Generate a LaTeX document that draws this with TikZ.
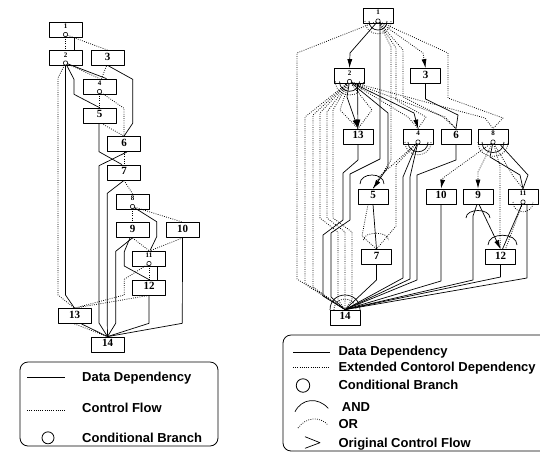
\documentclass[tikz,border=0pt]{standalone}
\usepackage{fontspec}
\setmainfont{Liberation Serif}
\newfontfamily\legfont{Liberation Sans}
\usetikzlibrary{arrows.meta}
\newcommand{\ArcD}[5][]{\draw[#1] (#2-#4,#3) .. controls (#2-#4,#3+#5) and (#2+#4,#3+#5) .. (#2+#4,#3);}
\newcommand{\ArcU}[5][]{\draw[#1] (#2-#4,#3) .. controls (#2-#4,#3-#5) and (#2+#4,#3-#5) .. (#2+#4,#3);}
\tikzset{
  box/.style={draw, line width=0.8pt, minimum width=33pt, minimum height=15pt, inner sep=0pt, fill=white},
  rbox/.style={box, minimum width=30pt},
  bfnt/.style={font=\fontsize{11}{11}\selectfont\bfseries, inner sep=0pt},
  sfnt/.style={font=\fontsize{7}{7}\selectfont\bfseries, inner sep=0pt},
  bigl/.style={label={[bfnt, yshift=1.2pt]center:#1}},
  smll/.style={label={[sfnt, yshift=3.2pt]center:#1}},
  data/.style={line width=0.7pt},
  ctrl/.style={dash pattern=on 0.8pt off 1.4pt, line width=0.75pt},
  cb/.style={circle, draw, fill=white, line width=0.6pt, inner sep=0pt, minimum size=4.4pt},
  arr/.style={-{Latex[length=9pt,width=5pt]}},
  legc/.style={circle, draw, line width=0.8pt, inner sep=0pt},
  leg/.style={font=\legfont\bfseries\fontsize{13}{15}\selectfont, anchor=base west, inner sep=0pt}
}
\begin{document}
\begin{tikzpicture}[x=1pt,y=-1pt,line join=round]
\useasboundingbox (0,0) rectangle (540,453);
\fill[white] (0,0) rectangle (540,453);
% ---------------- left graph ----------------
\node[box, smll=1] (L1) at (65.5,29.5) {};
\node[box, smll=2] (L2) at (65.5,58) {};
\node[box, bigl=3] (L3) at (107.5,58) {};
\node[box, smll=4] (L4) at (99.5,86.5) {};
\node[box, bigl=5] (L5) at (99.5,115.5) {};
\node[box, bigl=6] (L6) at (124,144) {};
\node[box, bigl=7] (L7) at (124,172.5) {};
\node[box, smll=8] (L8) at (132.5,201.5) {};
\node[box, bigl=9] (L9) at (132.5,230) {};
\node[box, bigl=10] (L10) at (182.5,230) {};
\node[box, smll=11] (L11) at (149,258.5) {};
\node[box, bigl=12] (L12) at (149,287.5) {};
\node[box, bigl=13] (L13) at (74.5,316) {};
\node[box, bigl=14] (L14) at (107.5,344.5) {};
\coordinate (Lc1) at (65.5,34.5);
\coordinate (Lc2) at (65.5,63);
\coordinate (Lc4) at (99.5,91.5);
\coordinate (Lc8) at (132.5,206.5);
\coordinate (Lc11) at (149,263.5);

\draw[ctrl] (Lc1) -- (L2.north);
\draw[data] ([xshift=8.5pt]L1.south) -- ([xshift=8.5pt]L2.north);
\draw[ctrl] (Lc1) -- (L3.north);
\draw[ctrl] (Lc2) -- (58,78) -- (58,295) -- (L13.north);
\draw[data] (Lc2) -- (65.5,295) -- (L13.north);
\draw[data] (Lc2) -- (74,79.3) -- (74,94.3) -- (L5.north);
\draw[data] (Lc2) -- ([xshift=7pt]L4.north);
\draw[ctrl] (Lc2) -- (L4.north);
\draw[ctrl] ([xshift=-1pt]L3.south) -- ([xshift=2pt]L4.north);
\draw[data] ([xshift=1pt]L3.south) -- (132.7,79.3) -- (132.7,123.3) -- (L6.north);
\draw[ctrl] (Lc4) -- (L5.north);
\draw[ctrl] (Lc4) -- (124,108.3) -- (L6.north);
\draw[ctrl] ([xshift=2pt]L5.south) -- (L6.north);
\draw[data] ([xshift=-0.5pt]L5.south) -- (99,151.7) -- ([xshift=-2pt]L7.north);
\draw[ctrl] (L6.south) -- (L7.north);
\draw[data] ([xshift=3pt]L6.south) -- (99,165.7) -- (99,323) -- (L14.north);
\draw[data] (L7.south) -- (107.3,193.3) -- (107.3,323) -- (L14.north);
\draw[ctrl] (L7.south) -- (L8.north);
\draw[ctrl] (Lc8) -- (L9.north);
\draw[ctrl] (Lc8) -- (L10.north);
\draw[data] (Lc8) -- (156.7,221.7) -- (156.7,236.7) -- ([xshift=1pt]L11.north);
\draw[ctrl] (L9.south) -- (L11.north);
\draw[ctrl] (L10.south) -- ([xshift=1.5pt]L11.north);
\draw[data] (L9.south) -- (115.7,251.3) -- (115.7,323.3) -- (L14.north);
\draw[data] ([xshift=-2.5pt]L9.south) -- (124.3,251.7) -- (124.3,266) -- (L12.north);
\draw[ctrl] (Lc11) -- (L12.north);
\draw[data] ([xshift=8.3pt]L11.south) -- ([xshift=8.3pt]L12.north);
\draw[ctrl] (Lc11) -- (124.3,279.3) -- (124.3,295) -- (L13.north);
\draw[ctrl] (L12.south) -- (L13.north);
\draw[data] (L12.south) -- (149,323.3) -- (L14.north);
\draw[data] (L10.south) -- (182.3,323.3) -- (L14.north);
\draw[data] ([xshift=7pt]L13.south) -- (L14.north);
\draw[ctrl] (L13.south) -- (L14.north);
\foreach \c in {Lc1,Lc2,Lc4,Lc8,Lc11} \node[cb] at (\c) {};

% ---------------- right graph ----------------
\node[rbox, smll=1] (R1) at (378,15.5) {};
\node[rbox, smll=2] (R2) at (349.5,76) {};
\node[rbox, bigl=3] (R3) at (425.5,76) {};
\node[rbox, bigl=13] (R13) at (358,136.5) {};
\node[rbox, smll=4] (R4) at (418,136.5) {};
\node[rbox, bigl=6] (R6) at (456,136.5) {};
\node[rbox, smll=8] (R8) at (493,136.5) {};
\node[rbox, bigl=5] (R5) at (373,196.5) {};
\node[rbox, bigl=10] (R10) at (441,196.5) {};
\node[rbox, bigl=9] (R9) at (478,196.5) {};
\node[rbox, smll=11] (R11) at (523,196.5) {};
\node[rbox, bigl=7] (R7) at (376.5,257) {};
\node[rbox, bigl=12] (R12) at (500.5,257) {};
\node[rbox, bigl=14] (R14) at (345,317.5) {};
\coordinate (Rc1) at (378,21);
\coordinate (Rc2) at (349.5,81.5);
\coordinate (Rc4) at (418,142);
\coordinate (Rc8) at (493,142);
\coordinate (Rc11) at (523,202);

% data dependencies
\draw[data,arr] (Rc1) -- (350,53) -- (R2.north);
\draw[data] ([xshift=2pt]R1.south) -- (380,159) -- (350,174) -- (350,220) -- (331,233) -- (331,297) -- (R14.north);
\draw[data] (R13.south) -- (358,160) -- (343,173) -- (343,220) -- (323,235) -- (323,296) -- (R14.north);
\draw[data,arr] (Rc2) -- (347,97) -- (R13.north);
\draw[data,arr] ([xshift=8pt]R2.south) -- (R13.north);
\draw[data,arr] (Rc2) -- (414,113) -- (R4.north);
\draw[data,arr] (Rc2) -- (388,113) -- (388,167) -- (R5.north);
\draw[data] (R3.south) -- (425.5,99) -- (458,115) -- (R6.north);
\draw[data] (Rc4) -- (413,153) -- (403,177) -- (403,278) -- (R14.north);
\draw[data] (Rc4) -- (410,177) -- (410,279) -- (R14.north);
\draw[data] (R6.south) -- (456,160) -- (417,175) -- (417,280) -- (R14.north);
\draw[data] (R10.south) -- (441,281) -- (R14.north);
\draw[data] ([xshift=-1pt]R9.south) -- (473,216) -- (473,280) -- (R14.north);
\draw[data,arr] ([xshift=1pt]R9.south) -- (R12.north);
\draw[data] (Rc11) -- ([xshift=2pt]R12.north);
\draw[data] ([xshift=4pt]R11.south) -- (527,278) -- (R14.north);
\draw[data] (R12.south) -- (500.5,277) -- (R14.north);
\draw[data] (R7.south) -- (376.5,280) -- (R14.north);
\draw[data] (R5.south) -- (R7.north);
\draw[data] (Rc8) -- (490,157) -- (520,175) -- (R11.north);
\draw[data] ([xshift=7pt]R8.south) -- (528,175) -- (R11.north);

% extended control dependencies
\draw[ctrl] (Rc1) -- (297,53) -- (297,279) -- (R14.north);
\draw[ctrl,arr] (Rc1) -- (423,53) -- (R3.north);
\draw[ctrl] (Rc1) -- (448,53) -- (448,98) -- (503,118) -- (R8.north);
\draw[ctrl] (Rc1) -- (403,50) -- (403,97) -- (443,117) -- (R6.north);
\draw[ctrl] (Rc1) -- (396,48) -- (396,100) -- (426,117) -- (R4.north);
\draw[ctrl] (Rc1) -- (391,47) -- (391,160) -- (R5.north);
\draw[ctrl] (Rc2) -- (305,117) -- (305,283) -- (R14.north);
\draw[ctrl] (Rc2) -- (313,115) -- (313,287) -- (R14.north);
\draw[ctrl] (Rc2) -- (320,113) -- (320,218) -- (338,232) -- (338,300) -- (R14.north);
\draw[ctrl] (Rc2) -- (327,112) -- (327,218) -- (345,232) -- (R14.north);
\draw[ctrl] (Rc2) -- (333,110) -- (333,218) -- (352,232) -- (352,300) -- (R14.north);
\draw[ctrl] (Rc2) -- (340,110) -- (R13.north);
\draw[ctrl] (Rc2) -- (372,110) -- (R13.north);
\draw[ctrl] (Rc2) -- (408,117) -- (R4.north);
\draw[ctrl] (Rc2) -- (445,117) -- (R6.north);
\draw[ctrl] (Rc2) -- (485,118) -- (R8.north);
\draw[ctrl] (Rc4) -- (380,176) -- (R5.north);
\draw[ctrl] (Rc4) -- (396,165) -- (396,226) -- (R7.north);
\draw[ctrl] ([xshift=-5pt]R5.south) -- (362,236) -- (R7.north);
\draw[ctrl,arr] (Rc8) -- (443,178) -- (R10.north);
\draw[ctrl,arr] (Rc8) -- (478,172) -- (R9.north);
\draw[ctrl] (Rc8) -- (500,166) -- (500,238) -- (R12.north);
\draw[ctrl] (Rc8) -- (513,176) -- (R11.north);
\draw[ctrl] (Rc11) -- ([xshift=5pt]R12.north);

% AND / OR arcs
\ArcD[data]{378}{21}{9}{12}
\ArcD[ctrl]{378}{21}{13}{17}
\ArcD[data]{349.5}{81.5}{10}{13}
\ArcD[ctrl]{349.5}{81.5}{14}{18}
\ArcD[data]{418}{142}{10}{13}
\ArcD[ctrl]{418}{142}{13}{17}
\ArcD[data]{493}{142}{11}{14}
\ArcD[ctrl]{493}{142}{15}{19}
\ArcD[ctrl]{523}{202}{10}{13}
\ArcU[data]{478}{218}{12}{10}
\ArcU[data]{372}{184}{12}{12}
\ArcU[data]{502.5}{245}{14.5}{13}
\ArcU[ctrl]{376}{240}{12.5}{9}
\ArcU[data]{345}{310}{15}{20}
\ArcU[ctrl]{345}{310}{11}{14.6}
\foreach \c in {Rc1,Rc2,Rc4,Rc8,Rc11} \node[cb] at (\c) {};

% ---------------- left legend ----------------
\draw[line width=0.8pt, rounded corners=8pt] (20,362) rectangle (218,446);
\draw[data] (27,377) -- (65,377);
\draw[ctrl] (27,410) -- (65,410);
\node[legc, minimum size=12pt] (lcb) at (48,437.8) {};
\node[leg] (lt1) at (82,381) {Data Dependency};
\node[leg] (lt2) at (82,412.3) {Control Flow};
\node[leg] (lt3) at (82,442.3) {Conditional Branch};

% ---------------- right legend ----------------
\draw[line width=0.8pt, rounded corners=8pt] (540,335) -- (283,335) -- (283,451) -- (540,451);
\draw[data] (293,352) -- (330,352);
\draw[ctrl] (293,367) -- (330,367);
\node[legc, minimum size=13.5pt] (rcb) at (303,385.5) {};
\draw[data] (295,411.7) .. controls (302,398) and (318,397) .. (328.3,408.3);
\draw[ctrl] (298,428) .. controls (306,417) and (320,416) .. (328,425);
\draw[data] (305,436.7) -- (320,442.7) -- (305,448.3);
\node[leg] (rt1) at (338.3,355.7) {Data Dependency};
\node[leg] (rt2) at (338.3,371.7) {Extended Contorol Dependency};
\node[leg] (rt3) at (338.3,389.3) {Conditional Branch};
\node[leg] (rt4) at (341.7,411) {AND};
\node[leg] (rt5) at (338.3,428.3) {OR};
\node[leg] (rt6) at (338.3,447.3) {Original Control Flow};
\end{tikzpicture}
\end{document}
